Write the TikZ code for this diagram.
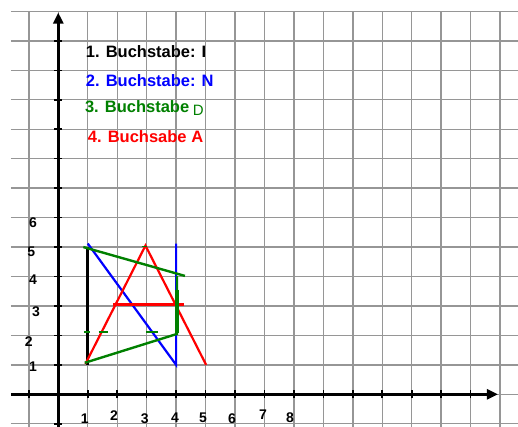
\documentclass[tikz,border=0pt]{standalone}
\usepackage{fontspec}
\setmainfont{Liberation Sans}
\usetikzlibrary{arrows.meta}
\definecolor{gridgray}{RGB}{150,150,150}
\definecolor{dgreen}{RGB}{0,128,0}
\definecolor{pblue}{RGB}{0,0,255}
\definecolor{pred}{RGB}{255,0,0}
\tikzset{
  gridline/.style={draw=gridgray, line width=1.4pt},
  axisline/.style={draw=black, line width=2.6pt, -{Triangle[length=11pt,width=10pt]}},
  axistick/.style={draw=black, line width=1.6pt},
  numlabel/.style={font=\bfseries\fontsize{14}{14}\selectfont, inner sep=0pt},
  headline/.style={font=\bfseries\fontsize{16.5}{16.5}\selectfont, inner sep=0pt, anchor=west},
  letterI/.style={draw=black, line width=2.6pt},
  letterN/.style={draw=pblue, line width=2.2pt},
  letterD/.style={draw=dgreen, line width=2.4pt},
  letterA/.style={draw=pred, line width=2.2pt}
}
\begin{document}
\begin{tikzpicture}[x=1pt,y=1pt]
\useasboundingbox (0,0) rectangle (518,426);
\fill[white] (0,0) rectangle (518,426);
\begin{scope}[shift={(58.3,31.7)},x=29.45pt,y=29.45pt]
  % grid
  \foreach \k in {-1,...,15} \draw[gridline] (\k,-1.1) -- (\k,12.99);
  \foreach \j in {-1,...,13} \draw[gridline] (-1.61,\j) -- (15.62,\j);
  % axes
  \coordinate (xs) at (-1.61,0);
  \coordinate (xe) at (14.93,0);
  \coordinate (ys) at (0,-1.1);
  \coordinate (ye) at (0,12.96);
  \draw[axisline] (xs) -- (xe);
  \draw[axisline] (ys) -- (ye);
  \foreach \k in {-1,1,2,...,14} \draw[axistick] (\k,-0.14) -- (\k,0.14);
  \foreach \j in {-1,1,2,...,12} \draw[axistick] (-0.14,\j) -- (0.14,\j);
  % axis numbers
  \node[numlabel] (x1) at (0.9,-0.84) {1};
  \node[numlabel] (x2) at (1.89,-0.74) {2};
  \node[numlabel] (x3) at (2.94,-0.84) {3};
  \node[numlabel] (x4) at (3.96,-0.78) {4};
  \node[numlabel] (x5) at (4.91,-0.81) {5};
  \node[numlabel] (x6) at (5.9,-0.84) {6};
  \node[numlabel] (x7) at (6.95,-0.7) {7};
  \node[numlabel] (x8) at (7.87,-0.78) {8};
  \node[numlabel] (y6) at (-0.86,5.82) {6};
  \node[numlabel] (y5) at (-0.92,4.83) {5};
  \node[numlabel] (y4) at (-0.86,3.88) {4};
  \node[numlabel] (y3) at (-0.76,2.8) {3};
  \node[numlabel] (y2) at (-1.0,1.78) {2};
  \node[numlabel] (y1) at (-0.86,0.93) {1};
  % headings
  \node[headline, text=black] (t1) at (0.93,11.62) {1. Buchstabe: I};
  \node[headline, text=pblue] (t2) at (0.93,10.64) {2. Buchstabe: N};
  \node[headline, text=dgreen] (t3) at (0.9,9.78) {3. Buchstabe};
  \node[font=\fontsize{15}{15}\selectfont, inner sep=0pt, text=dgreen] (t3d) at (4.75,9.64) {D};
  \node[headline, text=pred] (t4) at (1.0,8.74) {4. Buchsabe A};
  % letter I
  \draw[letterI] (1,1) -- (1,5);
  % letter N
  \draw[letterN] (1,5.12) -- (4,1) -- (4,5.12);
  % letter A
  \draw[letterA, line join=miter] (0.92,1.03) -- (2.96,5.05) -- (5.02,1.0);
  \draw[letterA] (1.87,3.05) -- (4.28,3.05);
  % letter D
  \draw[letterD] (0.85,5.0) -- (4.3,4.02);
  \draw[letterD] (4.03,4.02) -- (4.03,2.05) -- (0.9,1.07);
  \draw[dgreen, line width=4pt] (4.03,3.55) -- (4.03,2.08);
  \draw[letterD] (0.88,2.11) -- (1.08,2.11);
  \draw[letterD] (1.37,2.11) -- (1.7,2.11);
  \draw[letterD] (2.99,2.11) -- (3.4,2.11);
  \draw[letterD, line width=1.6pt] (2.83,5.02) -- (3.0,5.02);
\end{scope}
\end{tikzpicture}
\end{document}
